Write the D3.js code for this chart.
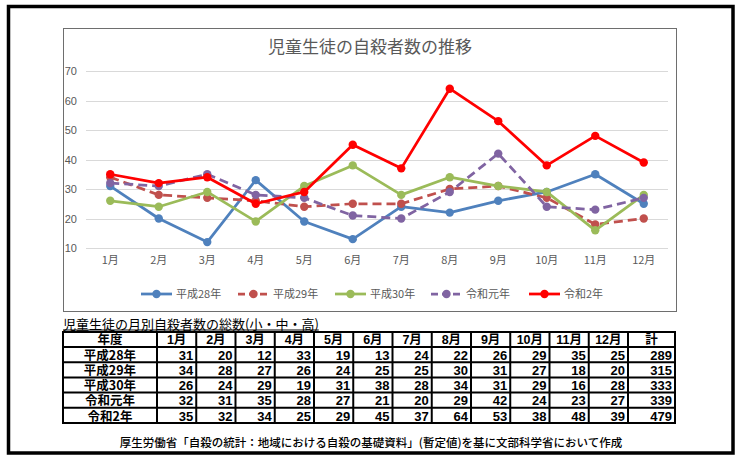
<!DOCTYPE html>
<html><head><meta charset="utf-8">
<script src="https://cdn.jsdelivr.net/npm/d3@7"></script>
<style>
html,body{margin:0;padding:0;background:#fff;}
svg{display:block;}
</style></head>
<body>
<script>
// ---- data ----
const months = ["1月","2月","3月","4月","5月","6月","7月","8月","9月","10月","11月","12月"];
const seriesNames = ["平成28年","平成29年","平成30年","令和元年","令和2年"];
const h28 = [31,20,12,33,19,13,24,22,26,29,35,25];
const h29 = [34,28,27,26,24,25,25,30,31,27,18,20];
const h30 = [26,24,29,19,31,38,28,34,31,29,16,28];
const r01 = [32,31,35,28,27,21,20,29,42,24,23,27];
const r02 = [35,32,34,25,29,45,37,64,53,38,48,39];
const totals = [289,315,333,339,479];
const yTicks = [10,20,30,40,50,60,70];
const chartTitle = "児童生徒の自殺者数の推移";
const tableTitle = "児童生徒の月別自殺者数の総数(小・中・高)";
const tableHeadFirst = "年度";
const tableHeadLast = "計";
const footer = "厚生労働省「自殺の統計：地域における自殺の基礎資料」(暫定値)を基に文部科学省において作成";

const seriesValues = [h28,h29,h30,r01,r02];
const colors = ["#4F81BD","#C0504D","#9BBB59","#8064A2","#FF0000"];
const dashes = [null,"9,5",null,"9,5",null];

const W=743,H=459;
const jp = "'Noto Sans CJK JP','Noto Sans',sans-serif";
const num = "'Liberation Sans','Noto Sans CJK JP',sans-serif";
const svg = d3.select("body").append("svg").attr("width",W).attr("height",H);
svg.append("rect").attr("width",W).attr("height",H).attr("fill","#fff");

// outer frame
svg.append("rect").attr("x",8.5).attr("y",6.5).attr("width",724.5).attr("height",446.5)
  .attr("fill","none").attr("stroke","#000").attr("stroke-width",3.5);

// chart box
svg.append("rect").attr("x",63.5).attr("y",28.5).attr("width",613).attr("height",283)
  .attr("fill","#fff").attr("stroke","#6e6e6e").attr("stroke-width",1);

svg.append("text").attr("x",370).attr("y",53).attr("text-anchor","middle")
  .attr("font-family",jp).attr("font-size",17).attr("fill","#595959").text(chartTitle);

const x = d3.scaleBand().domain(months).range([86,668]);
const y = d3.scaleLinear().domain([10,70]).range([248,71]);

// grid
svg.append("g").selectAll("line").data(yTicks).join("line")
  .attr("x1",86).attr("x2",668)
  .attr("y1",d=>Math.round(y(d))+0.5).attr("y2",d=>Math.round(y(d))+0.5)
  .attr("stroke","#d9d9d9").attr("stroke-width",1);

const yAxis = svg.append("g").attr("transform","translate(77,0)")
  .call(d3.axisLeft(y).tickValues(yTicks).tickSize(0).tickPadding(0));
yAxis.select(".domain").remove();
yAxis.selectAll("text").attr("font-family",num).attr("font-size",11).attr("fill","#595959");

const xAxis = svg.append("g").attr("transform","translate(0,256)")
  .call(d3.axisBottom(x).tickSize(0).tickPadding(0));
xAxis.select(".domain").remove();
xAxis.selectAll("text").attr("font-family",jp).attr("font-size",11).attr("fill","#595959");

const line = d3.line().x((d,i)=>x(months[i])+x.bandwidth()/2).y(d=>y(d));
seriesValues.forEach((vals,k)=>{
  const g = svg.append("g");
  g.append("path").datum(vals).attr("d",line).attr("fill","none")
    .attr("stroke",colors[k]).attr("stroke-width",2.75)
    .attr("stroke-dasharray",dashes[k]).attr("stroke-linejoin","round");
  g.selectAll("circle").data(vals).join("circle")
    .attr("cx",(d,i)=>x(months[i])+x.bandwidth()/2).attr("cy",d=>y(d))
    .attr("r",4.2).attr("fill",colors[k]);
});

// legend
const legX = [141,238,335,431,529];
seriesNames.forEach((n,k)=>{
  const g = svg.append("g").attr("transform",`translate(${legX[k]},294)`);
  g.append("line").attr("x1",0).attr("x2",31).attr("y1",0).attr("y2",0)
    .attr("stroke",colors[k]).attr("stroke-width",2.75).attr("stroke-dasharray",dashes[k]?"7,4":null);
  g.append("circle").attr("cx",15.5).attr("cy",0).attr("r",4.2).attr("fill",colors[k]);
  g.append("text").attr("x",35).attr("y",4).attr("font-family",jp).attr("font-size",11)
    .attr("fill","#595959").text(n);
});

// table title
const tt = svg.append("text").attr("x",63).attr("y",328.5).attr("font-family",jp)
  .attr("font-size",13).attr("font-weight",400).attr("fill","#000").text(tableTitle);
const ttw = tt.node().getComputedTextLength();
svg.append("line").attr("x1",63).attr("x2",63+ttw).attr("y1",330).attr("y2",330)
  .attr("stroke","#000").attr("stroke-width",1);

// table
const colEdges = [63,157];
const mw = (628-157)/12;
for(let i=1;i<=12;i++) colEdges.push(157+mw*i);
colEdges.push(675);
const rowEdges = [332,347];
for(let i=1;i<=5;i++) rowEdges.push(347+15.2*i);
const tg = svg.append("g");
const tfont = 12;
// header
const header = [tableHeadFirst, ...months, tableHeadLast];
header.forEach((h,c)=>{
  tg.append("text").attr("x",(colEdges[c]+colEdges[c+1])/2).attr("y",rowEdges[1]-3)
    .attr("text-anchor","middle").attr("font-family", c===0||c===13?jp:num)
    .attr("font-size",tfont+0.5).attr("font-weight","bold").attr("fill","#000").text(h);
});
seriesNames.forEach((n,r)=>{
  const yb = rowEdges[r+2]-2.5;
  tg.append("text").attr("x",(colEdges[0]+colEdges[1])/2).attr("y",yb)
    .attr("text-anchor","middle").attr("font-family",jp).attr("font-size",tfont+0.5)
    .attr("font-weight","bold").attr("fill","#000").text(n);
  const rowVals = [...seriesValues[r], totals[r]];
  rowVals.forEach((v,c)=>{
    tg.append("text").attr("x",colEdges[c+2]-3).attr("y",yb)
      .attr("text-anchor","end").attr("font-family",num).attr("font-size",tfont+1)
      .attr("font-weight","bold").attr("fill","#000").text(v);
  });
});
// grid lines
colEdges.forEach(cx=>{
  tg.append("line").attr("x1",cx).attr("x2",cx).attr("y1",rowEdges[0]).attr("y2",rowEdges[rowEdges.length-1])
    .attr("stroke","#000").attr("stroke-width",2);
});
rowEdges.forEach(ry=>{
  tg.append("line").attr("x1",colEdges[0]-1).attr("x2",colEdges[colEdges.length-1]+1).attr("y1",ry).attr("y2",ry)
    .attr("stroke","#000").attr("stroke-width",2);
});

// footer
svg.append("text").attr("x",371).attr("y",447).attr("text-anchor","middle")
  .attr("font-family",jp).attr("font-size",11.5).attr("font-weight",500).attr("fill","#000").text(footer);
</script>
</body></html>
